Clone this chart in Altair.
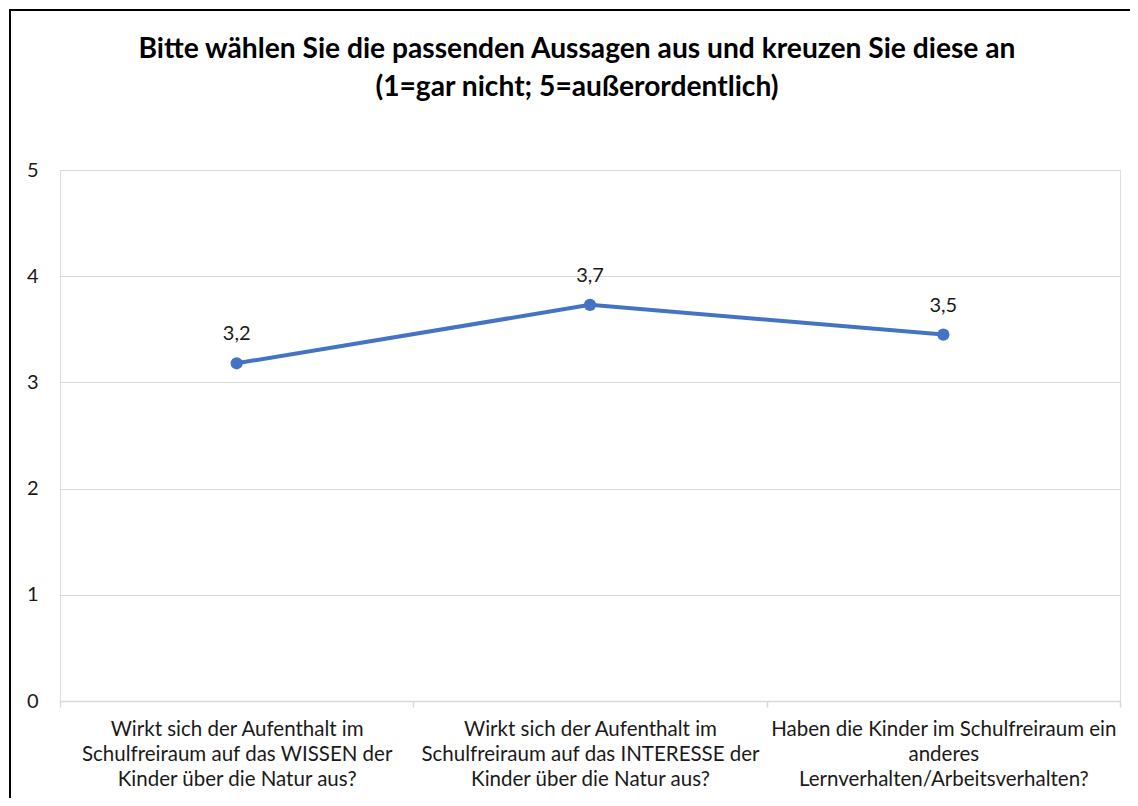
import altair as alt
import pandas as pd

categories = [
    "Wirkt sich der Aufenthalt im\nSchulfreiraum auf das WISSEN der\nKinder über die Natur aus?",
    "Wirkt sich der Aufenthalt im\nSchulfreiraum auf das INTERESSE der\nKinder über die Natur aus?",
    "Haben die Kinder im Schulfreiraum ein\nanderes\nLernverhalten/Arbeitsverhalten?",
]
values = [3.18, 3.73, 3.45]
y_ticks = [0, 1, 2, 3, 4, 5]
title_lines = [
    "Bitte wählen Sie die passenden Aussagen aus und kreuzen Sie diese an",
    "(1=gar nicht; 5=außerordentlich)",
]

FONT = "Lato"
TEXT = "#1a1a1a"
BLUE = "#4472C4"
GRID = "#d9d9d9"

df = pd.DataFrame({"frage": categories, "wert": values})

x_enc = alt.X(
    "frage:N",
    sort=categories,
    scale=alt.Scale(type="band", paddingInner=0, paddingOuter=0),
    axis=alt.Axis(
        title=None,
        labelAngle=0,
        labelExpr="split(datum.label, '\\n')",
        labelOverlap=False,
        tickBand="extent",
        grid=False,
        domainColor=GRID,
        domainWidth=1.5,
        tickColor=GRID,
        tickWidth=1.5,
        tickSize=6,
        labelFont=FONT,
        labelFontSize=20.5,
        labelLineHeight=25,
        labelLimit=500,
        labelPadding=12,
        labelBaseline="top",
        labelColor=TEXT,
    ),
)
y_enc = alt.Y(
    "wert:Q",
    scale=alt.Scale(domain=[0, 5], nice=False),
    axis=alt.Axis(
        title=None,
        values=y_ticks,
        grid=True,
        gridColor=GRID,
        gridWidth=1.2,
        domain=False,
        ticks=False,
        labelPadding=22,
        labelFont=FONT,
        labelFontSize=20,
        labelColor=TEXT,
        labelAlign="right",
    ),
)

base = alt.Chart(df).encode(x=x_enc, y=y_enc)

line = base.mark_line(color=BLUE, strokeWidth=4)
points = base.mark_point(filled=True, size=150, opacity=1, color=BLUE)
labels = base.transform_calculate(
    lbl="replace(format(datum.wert, '.1f'), '.', ',')"
).mark_text(dy=-29, font=FONT, fontSize=20, color=TEXT).encode(text="lbl:N")

one = pd.DataFrame({"k": [0]})
frame_top = alt.Chart(one).mark_rule(color="black", strokeWidth=2).encode(
    x=alt.value(-50), x2=alt.value(1100), y=alt.value(-160)
)
frame_left = alt.Chart(one).mark_rule(color="black", strokeWidth=2).encode(
    x=alt.value(-50), y=alt.value(-161), y2=alt.value(660)
)

chart = alt.layer(frame_top, frame_left, line, points, labels).properties(
    width=1060,
    height=531,
    title=alt.Title(
        title_lines,
        anchor="middle",
        frame="group",
        font=FONT,
        fontSize=28.2,
        fontWeight="bold",
        color="black",
        lineHeight=38,
        offset=-94,
        dx=-13,
    ),
    autosize=alt.AutoSizeParams(type="none"),
    padding={"left": 52, "top": 162, "right": 10, "bottom": 97},
).configure_view(stroke=None).configure(background="white")

chart.save("out.html", embed_options={"renderer": "svg", "actions": False})
